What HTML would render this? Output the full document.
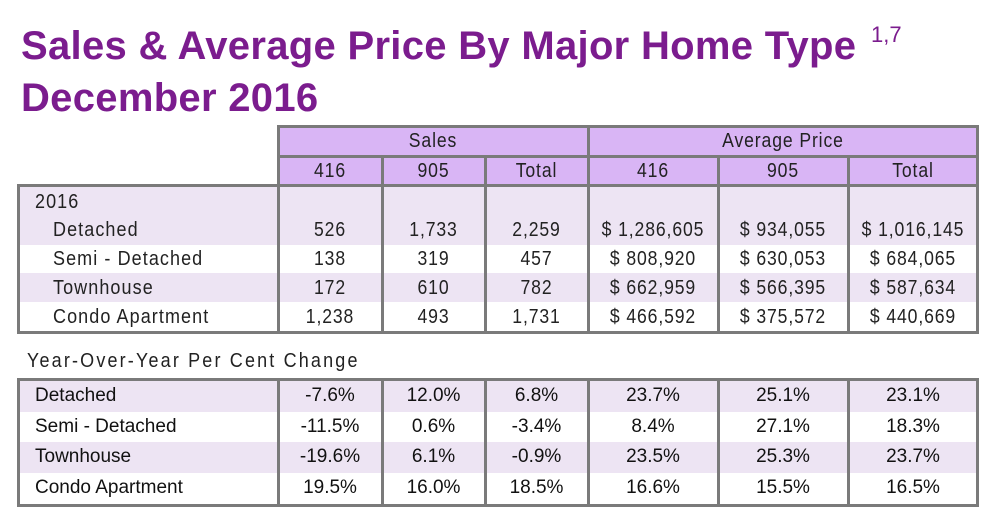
<!DOCTYPE html>
<html><head><style>
body{margin:0;width:1000px;height:529px;background:#fff;position:relative;overflow:hidden;font-family:"Liberation Sans",Arial,sans-serif;}
.t{position:absolute;color:#7b1c8e;font-weight:bold;font-size:40px;left:21px;letter-spacing:0.3px;}
.b{position:absolute;box-sizing:border-box;}
.c{position:absolute;text-align:center;font-size:20px;color:#222;letter-spacing:1px;transform:scaleX(0.88);}
.n{position:absolute;font-size:20px;color:#222;letter-spacing:1.2px;transform:scaleX(0.9);transform-origin:left;}
.p{position:absolute;text-align:center;font-size:19px;color:#111;}
.vl{position:absolute;width:3px;background:#7a7a7a;}
.hl{position:absolute;height:3px;background:#7a7a7a;}
</style></head><body>
<div class="t" style="top:24px">Sales &amp; Average Price By Major Home Type</div>
<div style="position:absolute;left:871px;top:22px;font-size:22px;color:#7b1c8e">1,7</div>
<div class="t" style="top:76px">December 2016</div>

<div class="b" style="left:278px;top:126px;width:701px;height:60px;background:#d9b5f5"></div>
<div class="hl" style="left:278px;top:125px;width:701px"></div>
<div class="hl" style="left:278px;top:155px;width:701px"></div>
<div class="b" style="left:18px;top:186px;width:961px;height:59px;background:#ede4f3"></div>
<div class="b" style="left:18px;top:273px;width:961px;height:29px;background:#ede4f3"></div>
<div class="hl" style="left:18px;top:184px;width:961px"></div>
<div class="hl" style="left:18px;top:331px;width:961px"></div>
<div class="vl" style="left:17px;top:184px;height:150px"></div>
<div class="vl" style="left:277px;top:125px;height:209px"></div>
<div class="vl" style="left:381px;top:155px;height:179px"></div>
<div class="vl" style="left:484px;top:155px;height:179px"></div>
<div class="vl" style="left:587px;top:125px;height:209px"></div>
<div class="vl" style="left:717px;top:155px;height:179px"></div>
<div class="vl" style="left:847px;top:155px;height:179px"></div>
<div class="vl" style="left:976px;top:125px;height:209px"></div>

<div class="c" style="left:278px;width:310px;top:130px">Sales</div>
<div class="c" style="left:588px;width:390px;top:130px">Average Price</div>
<div class="c" style="left:278px;width:104px;top:160px">416</div>
<div class="c" style="left:382px;width:103px;top:160px">905</div>
<div class="c" style="left:485px;width:103px;top:160px">Total</div>
<div class="c" style="left:588px;width:130px;top:160px">416</div>
<div class="c" style="left:718px;width:130px;top:160px">905</div>
<div class="c" style="left:848px;width:130px;top:160px">Total</div>

<div class="n" style="left:35px;top:191px">2016</div>
<div class="n" style="left:53px;top:219px">Detached</div>
<div class="n" style="left:53px;top:248px">Semi - Detached</div>
<div class="n" style="left:53px;top:277px">Townhouse</div>
<div class="n" style="left:53px;top:306px">Condo Apartment</div>

<div class="c" style="left:278px;width:104px;top:219px">526</div>
<div class="c" style="left:382px;width:103px;top:219px">1,733</div>
<div class="c" style="left:485px;width:103px;top:219px">2,259</div>
<div class="c" style="left:588px;width:130px;top:219px">$ 1,286,605</div>
<div class="c" style="left:718px;width:130px;top:219px">$ 934,055</div>
<div class="c" style="left:848px;width:130px;top:219px">$ 1,016,145</div>

<div class="c" style="left:278px;width:104px;top:248px">138</div>
<div class="c" style="left:382px;width:103px;top:248px">319</div>
<div class="c" style="left:485px;width:103px;top:248px">457</div>
<div class="c" style="left:588px;width:130px;top:248px">$ 808,920</div>
<div class="c" style="left:718px;width:130px;top:248px">$ 630,053</div>
<div class="c" style="left:848px;width:130px;top:248px">$ 684,065</div>

<div class="c" style="left:278px;width:104px;top:277px">172</div>
<div class="c" style="left:382px;width:103px;top:277px">610</div>
<div class="c" style="left:485px;width:103px;top:277px">782</div>
<div class="c" style="left:588px;width:130px;top:277px">$ 662,959</div>
<div class="c" style="left:718px;width:130px;top:277px">$ 566,395</div>
<div class="c" style="left:848px;width:130px;top:277px">$ 587,634</div>

<div class="c" style="left:278px;width:104px;top:306px">1,238</div>
<div class="c" style="left:382px;width:103px;top:306px">493</div>
<div class="c" style="left:485px;width:103px;top:306px">1,731</div>
<div class="c" style="left:588px;width:130px;top:306px">$ 466,592</div>
<div class="c" style="left:718px;width:130px;top:306px">$ 375,572</div>
<div class="c" style="left:848px;width:130px;top:306px">$ 440,669</div>

<div class="n" style="left:27px;top:350px;letter-spacing:2.4px">Year-Over-Year Per Cent Change</div>

<div class="b" style="left:18px;top:380px;width:961px;height:32px;background:#ede4f3"></div>
<div class="b" style="left:18px;top:442px;width:961px;height:31px;background:#ede4f3"></div>
<div class="hl" style="left:18px;top:378px;width:961px"></div>
<div class="hl" style="left:18px;top:504px;width:961px"></div>
<div class="vl" style="left:17px;top:378px;height:129px"></div>
<div class="vl" style="left:277px;top:378px;height:129px"></div>
<div class="vl" style="left:381px;top:378px;height:129px"></div>
<div class="vl" style="left:484px;top:378px;height:129px"></div>
<div class="vl" style="left:587px;top:378px;height:129px"></div>
<div class="vl" style="left:717px;top:378px;height:129px"></div>
<div class="vl" style="left:847px;top:378px;height:129px"></div>
<div class="vl" style="left:976px;top:378px;height:129px"></div>

<div class="p" style="left:35px;top:385px;text-align:left">Detached</div>
<div class="p" style="left:35px;top:416px;text-align:left">Semi - Detached</div>
<div class="p" style="left:35px;top:446px;text-align:left">Townhouse</div>
<div class="p" style="left:35px;top:477px;text-align:left">Condo Apartment</div>

<div class="p" style="left:278px;width:104px;top:385px">-7.6%</div>
<div class="p" style="left:382px;width:103px;top:385px">12.0%</div>
<div class="p" style="left:485px;width:103px;top:385px">6.8%</div>
<div class="p" style="left:588px;width:130px;top:385px">23.7%</div>
<div class="p" style="left:718px;width:130px;top:385px">25.1%</div>
<div class="p" style="left:848px;width:130px;top:385px">23.1%</div>

<div class="p" style="left:278px;width:104px;top:416px">-11.5%</div>
<div class="p" style="left:382px;width:103px;top:416px">0.6%</div>
<div class="p" style="left:485px;width:103px;top:416px">-3.4%</div>
<div class="p" style="left:588px;width:130px;top:416px">8.4%</div>
<div class="p" style="left:718px;width:130px;top:416px">27.1%</div>
<div class="p" style="left:848px;width:130px;top:416px">18.3%</div>

<div class="p" style="left:278px;width:104px;top:446px">-19.6%</div>
<div class="p" style="left:382px;width:103px;top:446px">6.1%</div>
<div class="p" style="left:485px;width:103px;top:446px">-0.9%</div>
<div class="p" style="left:588px;width:130px;top:446px">23.5%</div>
<div class="p" style="left:718px;width:130px;top:446px">25.3%</div>
<div class="p" style="left:848px;width:130px;top:446px">23.7%</div>

<div class="p" style="left:278px;width:104px;top:477px">19.5%</div>
<div class="p" style="left:382px;width:103px;top:477px">16.0%</div>
<div class="p" style="left:485px;width:103px;top:477px">18.5%</div>
<div class="p" style="left:588px;width:130px;top:477px">16.6%</div>
<div class="p" style="left:718px;width:130px;top:477px">15.5%</div>
<div class="p" style="left:848px;width:130px;top:477px">16.5%</div>
</body></html>
